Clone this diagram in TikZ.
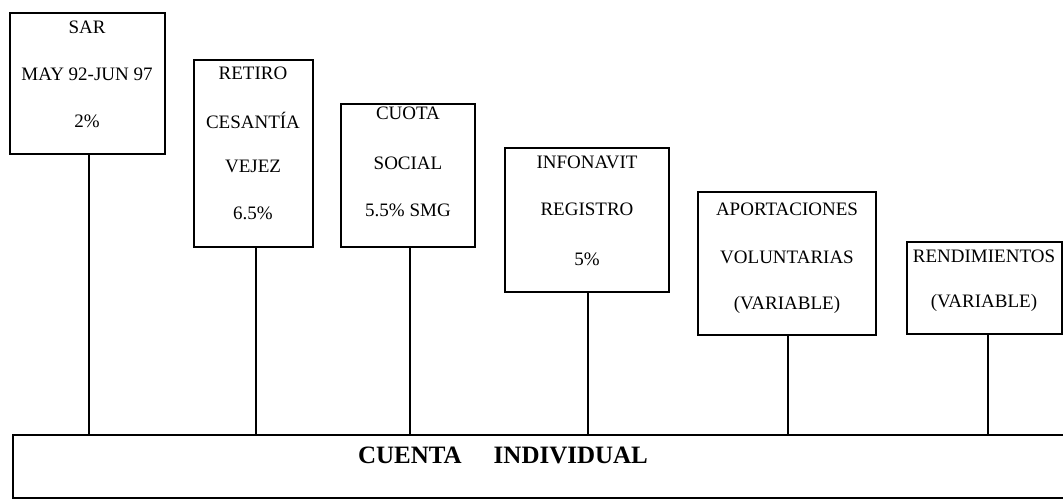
\documentclass[tikz,border=0pt]{standalone}
\usepackage{fontspec}
\setmainfont{Liberation Serif}
\begin{document}
\begin{tikzpicture}[x=1pt,y=-1pt,
  box/.style={draw,line width=1.6pt,inner sep=0pt},
  lbl/.style={font=\fontsize{19}{22}\selectfont,inner sep=0pt,anchor=center},
  conn/.style={line width=1.4pt}]
\useasboundingbox (0,0) rectangle (1063,503);
\clip (0,0) rectangle (1063,503);
% boxes
\node[box,minimum width=155pt,minimum height=141pt] (sar) at (87.5,83.5) {};
\node[box,minimum width=119pt,minimum height=187pt] (ret) at (253.5,153.5) {};
\node[box,minimum width=134pt,minimum height=143pt] (cuo) at (408,175.5) {};
\node[box,minimum width=164pt,minimum height=144pt] (inf) at (587,220) {};
\node[box,minimum width=178pt,minimum height=143pt] (apo) at (787,263.5) {};
\node[box,minimum width=155pt,minimum height=92pt] (ren) at (984.5,288) {};
\node[box,minimum width=1070pt,minimum height=63pt] (cta) at (548,466.5) {};
% labels
\node[lbl] (t1a) at (87,27) {SAR};
\node[lbl] (t1b) at (87,74) {MAY 92-JUN 97};
\node[lbl] (t1c) at (87,121) {2\%};
\node[lbl] (t2a) at (253,73) {RETIRO};
\node[lbl] (t2b) at (253,120) {CESANTÍA};
\node[lbl] (t2c) at (253,166) {VEJEZ};
\node[lbl] (t2d) at (253,213) {6.5\%};
\node[lbl] (t3a) at (408,113) {CUOTA};
\node[lbl] (t3b) at (408,163) {SOCIAL};
\node[lbl] (t3c) at (408,210) {5.5\% SMG};
\node[lbl] (t4a) at (587,162) {INFONAVIT};
\node[lbl] (t4b) at (587,209) {REGISTRO};
\node[lbl] (t4c) at (587,259) {5\%};
\node[lbl] (t5a) at (787,209) {APORTACIONES};
\node[lbl] (t5b) at (787,257) {VOLUNTARIAS};
\node[lbl] (t5c) at (787,305) {(VARIABLE)};
\node[lbl] (t6a) at (984,256) {RENDIMIENTOS};
\node[lbl] (t6b) at (984,303) {(VARIABLE)};
\node[font=\fontsize{25}{29}\selectfont\bfseries,inner sep=0pt] (ctat) at (503,455) {CUENTA\hspace{32pt}INDIVIDUAL};
% connectors
\foreach \n/\xx in {sar/89,ret/256,cuo/410,inf/588,apo/788,ren/988}{
  \draw[conn] (\n.south -| \xx,0) -- (cta.north -| \xx,0);
}
\end{tikzpicture}
\end{document}
